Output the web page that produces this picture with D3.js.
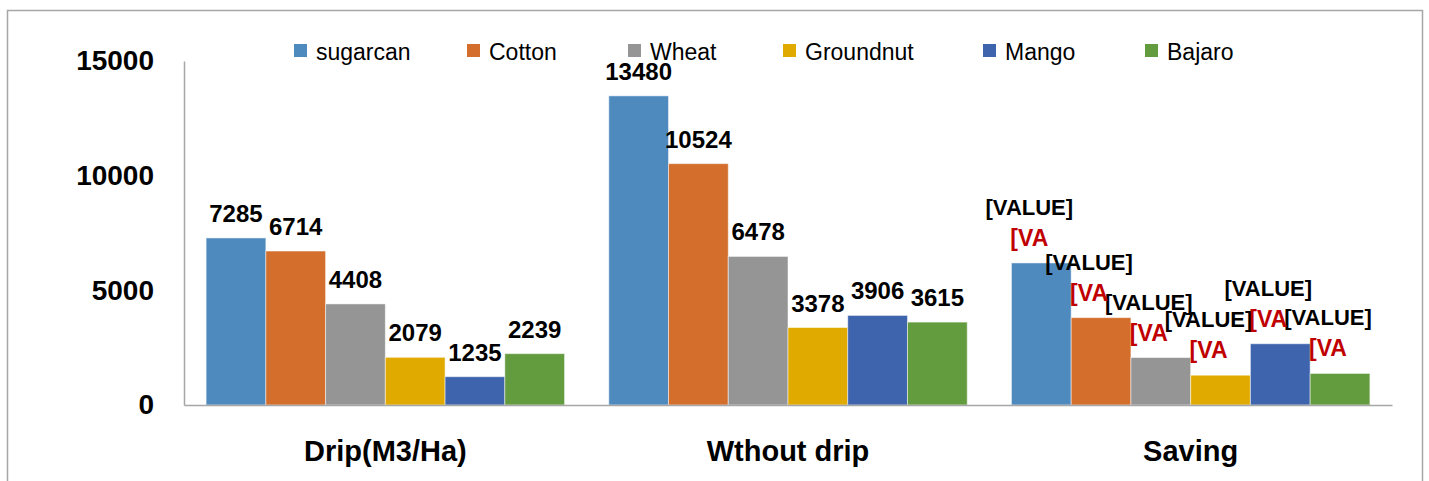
<!DOCTYPE html>
<html>
<head>
<meta charset="utf-8">
<script src="https://cdn.jsdelivr.net/npm/d3@7"></script>
<style>
  html, body { margin: 0; padding: 0; background: #fff; }
  svg { display: block; font-family: "Liberation Sans", Arial, sans-serif; }
</style>
</head>
<body>
<svg id="chart" width="1429" height="481"></svg>
<script>
const categories = ["Drip(M3/Ha)", "Wthout drip", "Saving"];
const seriesNames = ["sugarcan", "Cotton", "Wheat", "Groundnut", "Mango", "Bajaro"];
const dripValues = [7285, 6714, 4408, 2079, 1235, 2239];
const withoutDripValues = [13480, 10524, 6478, 3378, 3906, 3615];
const savingValues = [6195, 3810, 2070, 1299, 2671, 1376];
const yTicks = [0, 5000, 10000, 15000];
const seriesColors = ["#4f8abf", "#d36e2d", "#959595", "#e0aa00", "#3e64ad", "#639b3f"];

const valuesByCategory = [dripValues, withoutDripValues, savingValues];

const svg = d3.select("#chart");

// outer frame
svg.append("rect")
  .attr("x", 7.5).attr("y", 10.5).attr("width", 1415).attr("height", 490)
  .attr("fill", "none").attr("stroke", "#a6a6a6").attr("stroke-width", 1.5);

const plotLeft = 184, plotRight = 1392, plotTop = 61, plotBottom = 405;

const x0 = d3.scaleBand().domain(categories).range([plotLeft, plotRight]).padding(0);
const x1 = d3.scaleBand().domain(seriesNames).range([0, x0.bandwidth()])
  .paddingInner(0).paddingOuter(0.37);
const y = d3.scaleLinear().domain([0, 15000]).range([plotBottom, plotTop]);

// y axis
const yAxis = d3.axisLeft(y).tickValues(yTicks).tickSize(0).tickPadding(30).tickFormat(d3.format("d"));
const gy = svg.append("g").attr("transform", `translate(${plotLeft},0)`).call(yAxis);
gy.select(".domain").attr("stroke", "#a6a6a6").attr("stroke-width", 1.5);
gy.selectAll("text")
  .attr("font-size", 28).attr("font-weight", "bold").attr("fill", "#000")
  .attr("font-family", "Liberation Sans, Arial, sans-serif")
  .attr("dy", "0.32em");

// bars
const groups = svg.append("g").selectAll("g")
  .data(categories)
  .join("g")
  .attr("transform", d => `translate(${x0(d)},0)`);

groups.selectAll("rect")
  .data((c, ci) => seriesNames.map((s, si) => ({ s, si, ci, v: valuesByCategory[ci][si] })))
  .join("rect")
  .attr("x", d => x1(d.s))
  .attr("y", d => y(d.v))
  .attr("width", x1.bandwidth())
  .attr("height", d => y(0) - y(d.v))
  .attr("fill", d => seriesColors[d.si])
  .attr("stroke", "#ffffff").attr("stroke-opacity", 0.5).attr("stroke-width", 1);

// x axis
const xAxis = d3.axisBottom(x0).tickSize(0).tickPadding(35);
const gx = svg.append("g").attr("transform", `translate(0,${plotBottom})`).call(xAxis);
gx.select(".domain").attr("stroke", "#a6a6a6").attr("stroke-width", 1.5);
gx.selectAll("text")
  .attr("font-size", 29).attr("font-weight", "bold").attr("fill", "#000")
  .attr("font-family", "Liberation Sans, Arial, sans-serif");

// numeric value labels (first two categories)
groups.filter((c, ci) => ci < 2).selectAll("text.val")
  .data((c, ci) => seriesNames.map((s, si) => ({ s, si, v: valuesByCategory[ci][si] })))
  .join("text")
  .attr("class", "val")
  .attr("x", d => x1(d.s) + x1.bandwidth() / 2)
  .attr("y", d => y(d.v) - 16)
  .attr("text-anchor", "middle")
  .attr("font-size", 24).attr("font-weight", "bold").attr("fill", "#000")
  .text(d => d.v);

// placeholder labels for Saving
const savingGroup = groups.filter((c, ci) => ci === 2);
const savingData = seriesNames.map((s, si) => ({ s, si, v: savingValues[si] }));
savingGroup.selectAll("text.ph1")
  .data(savingData).join("text")
  .attr("class", "ph1")
  .attr("x", d => x1(d.s) + x1.bandwidth() / 2 - 12)
  .attr("y", d => y(d.v) - 48)
  .attr("text-anchor", "middle")
  .attr("font-size", 22).attr("font-weight", "bold").attr("fill", "#000")
  .text("[VALUE]");
savingGroup.selectAll("text.ph2")
  .data(savingData).join("text")
  .attr("class", "ph2")
  .attr("x", d => x1(d.s) + x1.bandwidth() / 2 - 12)
  .attr("y", d => y(d.v) - 17)
  .attr("text-anchor", "middle")
  .attr("font-size", 23).attr("font-weight", "bold").attr("fill", "#c00000")
  .text("[VA");

// legend
const legendX = [294, 467, 628, 783, 983, 1145];
const legend = svg.append("g").selectAll("g")
  .data(seriesNames).join("g")
  .attr("transform", (d, i) => `translate(${legendX[i]},44)`);
legend.append("rect")
  .attr("width", 13).attr("height", 13)
  .attr("fill", (d, i) => seriesColors[i]);
legend.append("text")
  .attr("x", 22).attr("y", 16)
  .attr("font-size", 23).attr("fill", "#000")
  .text(d => d);
</script>
</body>
</html>
